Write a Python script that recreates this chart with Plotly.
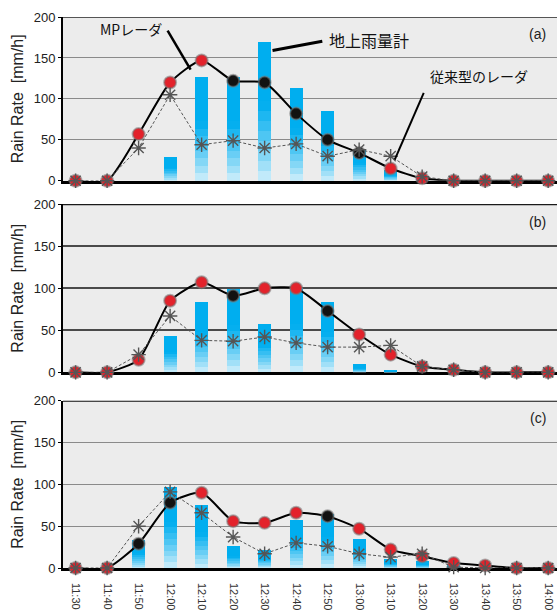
import plotly.graph_objects as go

# ---------------- data ----------------
times = ["11:30", "11:40", "11:50", "12:00", "12:10", "12:20", "12:30", "12:40",
         "12:50", "13:00", "13:10", "13:20", "13:30", "13:40", "13:50", "14:00"]

# panel (a)
gauge_a = [0, 0, 0, 29, 127, 127, 170, 113, 85, 38, 13, 3, 0, 0, 0, 0]
mp_a = [0, 0, 57, 120, 147, 122, 120, 82, 50, 34, 15, 3, 0, 0, 0, 0]
mp_a_kind = ["r", "r", "r", "r", "r", "b", "b", "b", "b", "b", "r", "r", "r", "r", "r", "r"]
conv_a = [0, 0, 40, 105, 44, 49, 40, 45, 30, 38, 30, 5, 0, 0, 0, 0]

# panel (b)
gauge_b = [0, 0, 0, 43, 84, 99, 58, 100, 84, 9, 2, 0, 0, 0, 0, 0]
mp_b = [0, 0, 15, 85, 107, 91, 100, 100, 73, 45, 21, 7, 3, 0, 0, 0]
mp_b_kind = ["r", "r", "r", "r", "r", "b", "r", "r", "b", "r", "r", "r", "r", "r", "r", "r"]
conv_b = [0, 0, 21, 67, 38, 37, 42, 35, 30, 30, 32, 7, 3, 0, 0, 0]

# panel (c)
gauge_c = [0, 0, 33, 97, 75, 26, 22, 57, 65, 35, 11, 8, 3, 0, 0, 0]
mp_c = [0, 0, 29, 78, 90, 56, 54, 66, 62, 47, 22, 14, 6, 3, 0, 0]
mp_c_kind = ["r", "r", "b", "b", "r", "r", "r", "r", "b", "r", "r", "r", "r", "r", "r", "r"]
conv_c = [0, 0, 50, 91, 66, 37, 17, 30, 26, 17, 13, 17, 1, 0, 0, 0]

y_ticks = [0, 50, 100, 150, 200]
panel_labels = ["(a)", "(b)", "(c)"]

# ---------------- styling ----------------
RED = "#E3222B"
BLACK = "#121212"
SOLID = (0, 174, 239)
PALE = (214, 240, 251)
NSEG = 14


def seg_color(k):
    t = (k + 0.5) / NSEG
    if t >= 0.55:
        c = SOLID
    else:
        s = (t / 0.55) ** 0.85
        c = tuple(round(PALE[i] + (SOLID[i] - PALE[i]) * s) for i in range(3))
    return "rgb(%d,%d,%d)" % c


fig = go.Figure()

panels = [
    ("x", "y", gauge_a, mp_a, mp_a_kind, conv_a),
    ("x2", "y2", gauge_b, mp_b, mp_b_kind, conv_b),
    ("x3", "y3", gauge_c, mp_c, mp_c_kind, conv_c),
]

for xa, ya, gauge, mp, kind, conv in panels:
    # gauge bars with vertical gradient (stacked slices of each bar)
    for k in range(NSEG):
        fig.add_trace(go.Bar(
            x=times, y=[v / NSEG for v in gauge], xaxis=xa, yaxis=ya,
            marker=dict(color=seg_color(k), line=dict(width=0)),
            showlegend=False, hoverinfo="skip"))
    # MP radar
    fig.add_trace(go.Scatter(
        x=times, y=mp, xaxis=xa, yaxis=ya, mode="lines+markers",
        line=dict(color="black", width=2, shape="spline", smoothing=0.6),
        marker=dict(size=12, color=[RED if c == "r" else BLACK for c in kind],
                    line=dict(color="rgba(120,120,120,0.55)", width=2)),
        cliponaxis=False, showlegend=False))
    # conventional radar
    fig.add_trace(go.Scatter(
        x=times, y=conv, xaxis=xa, yaxis=ya, mode="lines+markers",
        line=dict(color="#555555", width=1, dash="3px,2px"),
        marker=dict(symbol="asterisk-open", size=12,
                    line=dict(color="black", width=1.4)),
        cliponaxis=False, showlegend=False))

domains = [[0.7028, 1.0], [0.3551, 0.6605], [0.0, 0.3035]]
gridstyles = [("#8a8a8a", 1.2), ("#4a4a4a", 1.5), ("#8a8a8a", 1.2)]
topstyles = [("#555555", 1.8), ("#1a1a1a", 2.5), ("#111111", 2.2)]

layout = dict(
    width=557, height=610,
    margin=dict(l=63, r=0, t=17, b=42, autoexpand=False),
    paper_bgcolor="white", plot_bgcolor="#ECECEC",
    barmode="stack", bargap=0.58,
    showlegend=False,
    font=dict(family="Liberation Sans, Arial, sans-serif", color="#222222"),
)

for i in range(3):
    sx = "" if i == 0 else str(i + 1)
    layout["xaxis" + sx] = dict(
        type="category", categoryorder="array", categoryarray=times,
        range=[-0.40, 15.28], anchor="y" + sx, domain=[0, 1],
        showgrid=False, zeroline=False,
        showline=True, linecolor="black", linewidth=2.5,
        ticks="", showticklabels=(i == 2), tickangle=90,
        tickfont=dict(size=11, color="#333333"), ticklabelstandoff=10,
        layer="below traces", automargin=False,
        matches="x" if i > 0 else None,
    )
    gc, gw = gridstyles[i]
    layout["yaxis" + sx] = dict(
        range=[0, 200], tickvals=y_ticks, domain=domains[i], anchor="x" + sx,
        showgrid=True, gridcolor=gc, gridwidth=gw, zeroline=False,
        showline=True, linecolor="black", linewidth=2,
        ticks="outside", ticklen=3, tickcolor="black",
        tickfont=dict(size=13, color="#222222"),
        title=dict(text="Rain Rate\u00a0 [mm/h]", font=dict(size=16, color="#222222"),
                   standoff=6),
        layer="below traces", automargin=False,
    )

fig.update_layout(**layout)

shapes = []
annotations = []
for i in range(3):
    sx = "" if i == 0 else str(i + 1)
    col, w = topstyles[i]
    shapes.append(dict(type="line", xref="x%s domain" % sx, yref="y" + sx,
                       x0=0, x1=1, y0=200, y1=200, line=dict(color=col, width=w)))
    annotations.append(dict(xref="x" + sx, yref="y" + sx, x=14.67, y=179,
                            text=panel_labels[i], showarrow=False,
                            font=dict(size=14, color="#222222")))

# callouts in panel (a)
callouts = [
    ((2.92, 183.5), (3.65, 135.8), 2.5),
    ((6.25, 159.0), (7.83, 170.4), 3),
    ((11.05, 107.3), (10.13, 25.7), 2),
]
for (x0, y0), (x1, y1), w in callouts:
    shapes.append(dict(type="line", xref="x", yref="y", x0=x0, y0=y0, x1=x1, y1=y1,
                       line=dict(color="black", width=w)))

jp = "Noto Sans CJK JP, sans-serif"
annotations += [
    dict(xref="x", yref="y", x=1.75, y=185, text="MPレーダ", showarrow=False,
         font=dict(family=jp, size=14, color="#111111")),
    dict(xref="x", yref="y", x=9.32, y=172.5, text="地上雨量計", showarrow=False,
         font=dict(family=jp, size=16, color="#111111")),
    dict(xref="x", yref="y", x=12.8, y=128.4, text="従来型のレーダ", showarrow=False,
         font=dict(family=jp, size=14, color="#111111")),
]

fig.update_layout(shapes=shapes, annotations=annotations)

fig.write_html(
    "out.html",
    config={"displayModeBar": False},
    post_script="document.body.style.margin='0';document.body.style.overflow='hidden';",
)
